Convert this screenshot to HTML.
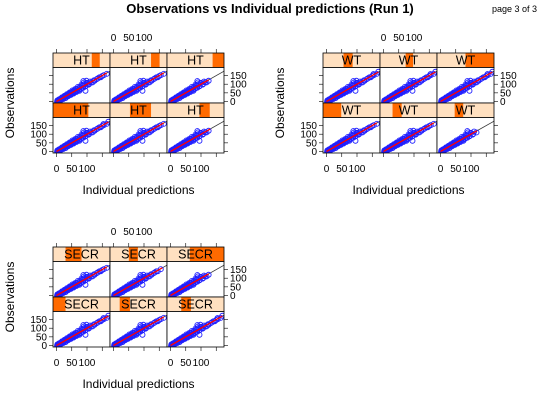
<!DOCTYPE html>
<html><head><meta charset="utf-8"><style>
body{margin:0;background:#fff}
svg{display:block;font-family:"Liberation Sans",Arial,sans-serif}
</style></head><body>
<svg id="c" width="540" height="400">
<text x="270" y="13" text-anchor="middle" font-size="13" font-weight="bold">Observations vs Individual predictions (Run 1)</text>
<text x="537" y="12" text-anchor="end" font-size="9">page 3 of 3</text>
</svg>
<script>
const groupNames=["HT","WT","SECR"];
const stripRanges=[
 [[0.68,0.82],[0.72,0.87],[0.8,1.0],[0,0.62],[0.35,0.72],[0.57,0.75]],
 [[0.36,0.52],[0.45,0.58],[0.5,1.0],[0,0.32],[0.22,0.38],[0.31,0.46]],
 [[0.22,0.5],[0.33,0.49],[0.4,1.0],[0,0.22],[0.17,0.35],[0.25,0.42]]
];
const panelMax=[
 [165,165,125,170,165,130],
 [170,170,170,165,165,120],
 [165,160,125,170,165,170]
];
const predVals=[2,4,5,7,8,10,12,14,15,17,19,21,23,25,27,29,31,33,35,37,40,42,45,48,50,53,55,58,60,63,66,70,73,76,80,85,88,92,95,100,105,110,118,125,135,145,155,165,170];
const obsVals=[1,5,3,8,6,12,10,16,13,19,17,24,20,27,25,32,28,36,31,40,37,45,41,52,46,57,50,63,55,68,61,75,66,82,74,91,80,100,88,108,97,115,110,120,133,140,152,160,172];
const predB=[3,6,9,13,18,22,26,30,34,38,43,47,52,56,61,65,70,75,82,88,90,95,98,102];
const obsB=[7,2,13,6,24,14,33,20,42,30,52,38,64,46,72,55,84,62,98,118,110,62,120,100];
const xTicks=[0,50,100,150];
const yTicks=[0,50,100,150];
const svg=document.getElementById('c');
const NS='http://www.w3.org/2000/svg';
function mk(t,a,p){const e=document.createElementNS(NS,t);for(const k in a)e.setAttribute(k,a[k]);(p||svg).appendChild(e);return e;}
const origins=[[53,53],[323,53],[53,247]];
const CW=57,SH=14.5,PH=35.5,RP=50;
origins.forEach(([gx,gy],g)=>{
 const grp=mk('g',{});
 
 
 for(let r=0;r<2;r++)for(let c=0;c<3;c++){
  const i=r*3+c;
  const sx=gx+c*CW, sy=gy+r*RP, py=sy+SH, pb=py+PH;
  const xs=v=>sx+3.5+v*0.305, ys=v=>pb-1.5-v*0.173;
  const st=mk('rect',{x:sx,y:sy,width:CW,height:SH,fill:'#ffe0c0',stroke:'none'},grp);
  
  
  const rg=stripRanges[g][i];
  const sh=mk('rect',{x:sx+rg[0]*CW,y:sy,width:(rg[1]-rg[0])*CW,height:SH,fill:'#ff6a00'},grp);
  
  
  mk('rect',{x:sx,y:sy,width:CW,height:SH,fill:'none',stroke:'#000','stroke-width':0.8},grp);
  const tx=mk('text',{x:sx+CW/2,y:sy+11.5,'text-anchor':'middle','font-size':12.5},grp);
  tx.textContent=groupNames[g];
  
  
  const pr=mk('rect',{x:sx,y:py,width:CW,height:PH,fill:'#fff',stroke:'none'},grp);
  
  
  const cp='cp'+g+'_'+i;
  const cl=mk('clipPath',{id:cp},grp);mk('rect',{x:sx,y:py,width:CW,height:PH},cl);
  const inner=mk('g',{'clip-path':'url(#'+cp+')'},grp);
  const idl=mk('line',{x1:xs(-20),y1:ys(-20),x2:xs(250),y2:ys(250),stroke:'#333','stroke-width':0.8},inner);
  
  
  const mx=panelMax[g][i];
  function pt(p,o){
   const cc=mk('circle',{cx:xs(p),cy:ys(o),r:2.5,fill:'none',stroke:'#2020ff','stroke-width':0.9},inner);
   
   
  }
  predVals.forEach((p,k)=>{ if(p>mx) return; pt(p,obsVals[k]); pt(p*0.9+1,obsVals[k]*0.92); });
  predB.forEach((p,k)=>{ if(p>mx*0.75) return; pt(p,obsB[k]); });
  const rl=mk('line',{x1:xs(0),y1:ys(0),x2:xs(mx),y2:ys(mx),stroke:'#ff0000','stroke-width':1.3},inner);
  
  
  mk('rect',{x:sx,y:py,width:CW,height:PH,fill:'none',stroke:'#000','stroke-width':0.8},grp);
  if(r===0){xTicks.forEach(v=>mk('line',{x1:xs(v),y1:sy,x2:xs(v),y2:sy-4,stroke:'#000','stroke-width':0.6},grp));
   if(c===1)xTicks.slice(0,3).forEach(v=>{const t=mk('text',{x:xs(v),y:sy-12,'text-anchor':'middle','font-size':10},grp);t.textContent=v;});}
  if(r===1){xTicks.forEach(v=>mk('line',{x1:xs(v),y1:pb,x2:xs(v),y2:pb+4,stroke:'#000','stroke-width':0.6},grp));
   if(c!==1)xTicks.slice(0,3).forEach(v=>{const t=mk('text',{x:xs(v),y:pb+19,'text-anchor':'middle','font-size':10},grp);t.textContent=v;});}
  if(c===0){yTicks.forEach(v=>mk('line',{x1:sx,y1:ys(v),x2:sx-4,y2:ys(v),stroke:'#000','stroke-width':0.6},grp));
   if(r===1)yTicks.forEach(v=>{const t=mk('text',{x:sx-6,y:ys(v)+3.5,'text-anchor':'end','font-size':10},grp);t.textContent=v;});}
  if(c===2){yTicks.forEach(v=>mk('line',{x1:sx+CW,y1:ys(v),x2:sx+CW+4,y2:ys(v),stroke:'#000','stroke-width':0.6},grp));
   if(r===0)yTicks.forEach(v=>{const t=mk('text',{x:sx+CW+6,y:ys(v)+3.5,'text-anchor':'start','font-size':10},grp);t.textContent=v;});}
 }
 const xl=mk('text',{x:gx+1.5*CW,y:gy+141,'text-anchor':'middle','font-size':12},grp);
 xl.textContent='Individual predictions';
 
 
 const yl=mk('text',{x:0,y:0,'text-anchor':'middle','font-size':12,transform:'translate('+(gx-39)+','+(gy+50)+') rotate(-90)'},grp);
 yl.textContent='Observations';
 
 
});
</script>
</body></html>
